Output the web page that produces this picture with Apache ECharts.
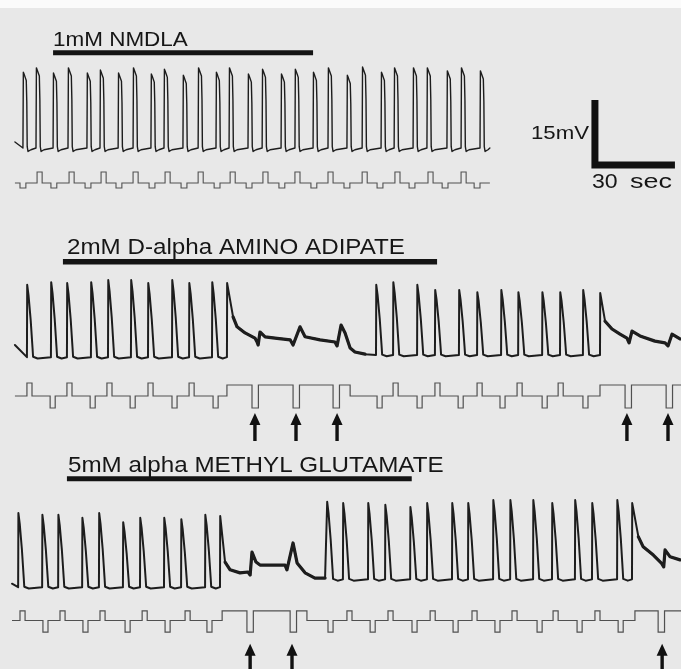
<!DOCTYPE html>
<html><head><meta charset="utf-8">
<script src="https://cdn.jsdelivr.net/npm/echarts/dist/echarts.min.js"></script>
<style>html,body{margin:0;padding:0;background:#e8e8e8}#c{width:681px;height:669px}</style>
</head><body><div id="c"></div>
<script>
// ===== DATA (time in s, membrane potential in mV relative to rest, injected current in nA) =====
const labels = ['1mM NMDLA', '2mM D-alpha AMINO ADIPATE', '5mM alpha METHYL GLUTAMATE'];
const drug1 = [15.4, 112.9];
const drug2 = [19.1, 159.4];
const drug3 = [20.6, 149.9];
const scaleMV = 15, scaleSec = 30;

// Row 1 : 1mM NMDLA
const r1SpikeT = [4.1,9.0,15.4,21.0,28.1,33.0,39.8,45.4,52.1,57.0,64.1,69.8,76.5,81.4,88.5,93.8,100.9,106.1,112.9,118.5,125.6,131.3,138.4,143.3,150.4,155.6,163.1,168.4,175.5];
const r1SpikeV = [17.5,18.5,17.3,18.5,17.3,18.0,17.3,18.5,17.1,18.2,16.8,18.5,17.5,18.5,17.1,18.2,17.1,18.2,17.5,18.5,16.8,18.7,17.5,18.5,18.5,18.5,17.8,18.5,17.8];
const r1Base = [[0, 0]];
const r1Start = [1.1, 1.4];
const r1EndT = 179.2;
const i1Span = [1.1, 179.2];
const i1Up = [9.4,21.4,33.4,45.4,57.4,69.8,81.8,94.1,106.1,118.5,131.3,143.6,156.0,168.4];
const i1Down = [3.0,14.6,27.4,39.0,51.4,63.4,75.8,87.8,100.1,112.1,124.5,136.9,148.9,161.3,173.3];

// Row 2 : 2mM D-alpha amino adipate
const r2SpikeT = [5.6,14.6,20.6,29.6,36.0,44.6,51.0,60.0,66.4,75.0,80.6,136.5,142.9,151.9,158.6,167.6,174.4,183.4,189.8,198.8,205.5,214.1,220.5];
const r2SpikeV = [16.2,16.8,16.6,16.8,17.3,17.3,16.6,17.3,16.6,16.8,16.6,16.2,16.8,16.2,15.0,15.0,14.5,15.0,14.5,14.5,14.5,15.0,14.3];
const r2Base = [[0, 0], [126, 0.5]];
const r2Start = [1.1, 2.3];
const r2Tail1 = [[82.9,8.8],[84.4,6.5],[87.4,5.1],[91.1,3.9],[91.9,3.0],[92.3,2.3],[93.0,5.3],[94.9,4.2],[98.6,3.9],[104.3,3.5],[105.4,2.3],[108.0,6.5],[109.9,4.2],[115.5,3.5],[121.1,3.0],[121.9,2.1],[123.4,6.9],[124.9,5.1],[126.8,1.6],[128.6,0.7],[132.4,0.2]];
const r2Tail2 = [[222.4,7.8],[225.0,6.0],[228.0,4.8],[230.6,3.9],[231.4,2.8],[232.5,5.5],[235.5,4.4],[241.1,3.2],[244.9,2.8],[246.0,2.1],[247.5,4.8],[250.5,3.7]];
const i2Span = [1.1, 250.9];
const i2Up = [5.6,20.6,35.6,51.0,66.4,142.9,158.6,174.4,189.4,204.8];
const i2Down = [14.3,29.3,44.3,60.0,75.4,136.9,151.9,167.3,183.0,198.8,214.1];
const i2Hold = [[80.6,126.8],[220.5,250.9]];
const i2HoldDown = [90.0,105.4,120.4,229.9,245.3];
const arrows2 = [91.1,106.5,121.9,230.6,246.0];

// Row 3 : 5mM alpha methyl glutamate
const r3SpikeT = [2.3,11.3,17.3,26.3,32.6,41.6,48.0,57.0,63.4,72.4,78.0,118.1,124.1,133.5,139.9,149.3,155.6,165.0,171.0,180.4,186.8,195.4,202.5,211.1,217.5,226.9,232.5];
const r3SpikeV = [16.6,16.2,16.2,15.5,16.6,14.5,15.5,15.5,15.2,16.2,15.9,19.2,18.9,18.9,18.5,18.0,18.9,18.9,18.9,19.6,19.6,19.6,18.9,19.6,18.9,19.6,18.9];
const r3Base = [[0, 0], [110, 1.8]];
const r3Start = [0, 0.3];
const r3Tail1 = [[79.9,5.3],[81.8,3.5],[85.5,2.8],[88.5,3.0],[89.3,2.3],[90.0,7.6],[91.5,5.3],[93.0,4.6],[102.4,4.6],[103.1,3.5],[105.4,9.7],[106.9,5.1],[109.9,2.8],[113.6,1.6],[117.4,1.6]];
const r3Tail2 = [[234.9,11.1],[236.7,8.8],[240.5,6.9],[243.6,5.0],[244.4,4.2],[244.9,8.1],[246.8,6.5],[250.5,5.8]];
const i3Span = [0, 250.9];
const i3Up = [3.0,18.0,33.0,48.8,64.9,125.6,141.0,156.8,172.5,187.5,202.9,218.6];
const i3Down = [11.6,26.6,42.4,57.4,73.1,118.5,134.3,150.0,165.4,181.1,196.9,211.9,227.3];
const i3Hold = [[78.8,110.6],[233.6,250.9]];
const i3HoldDown = [88.1,104.3,242.3];
const arrows3 = [89.3,105.0,243.8];

// current step levels (nA)
const i1Levels = {up: 0.44, down: -0.2, hold: 0};
const i2Levels = {up: 0.52, down: -0.48, hold: 0.44};
const i3Levels = {up: 0.40, down: -0.48, hold: 0.40};

// ===== BUILDERS =====
function baseAt(steps, t) { let b = steps[0][1]; for (const s of steps) if (t >= s[0]) b = s[1]; return b; }
const shapeSquare = [[0.15,1,0],[0.45,1,-0.5],[0.85,1,-1.2],[1.25,1,-1.9],[1.45,0.6,0],[1.6,0,0.3],[1.9,0,-0.8],[3.0,0,-0.4]];
const shapeSaw = [[0.1,1,0],[0.6,0.85,0],[1.4,0.5,0],[2.1,0.1,0],[2.3,0,-0.4],[4.0,0,-0.8]];
function buildV(T, V, baseSteps, start, tails, shape, pre, endT) {
  const pts = [start.slice()];
  for (let i = 0; i < T.length; i++) {
    const t = T[i], p = V[i], b = baseAt(baseSteps, t), a = p - b;
    pts.push([t, b + pre]);
    if (tails[i]) { pts.push([t + 0.08, p]); tails[i].forEach(q => pts.push(q)); }
    else shape.forEach(s => pts.push([t + s[0], b + s[1] * a + s[2]]));
  }
  if (endT != null) pts.push([endT, baseAt(baseSteps, endT)]);
  return pts;
}
function buildI(span, ups, downs, holds, holdDowns, L, upW, downW, holdDownW) {
  const iv = [];
  ups.forEach(t => iv.push([t, t + upW, L.up]));
  downs.forEach(t => iv.push([t, t + downW, L.down]));
  holdDowns.forEach(t => iv.push([t, t + holdDownW, L.down]));
  const bps = new Set([span[0], span[1]]);
  iv.forEach(v => { bps.add(v[0]); bps.add(v[1]); });
  holds.forEach(h => { bps.add(h[0]); bps.add(h[1]); });
  const ts = [...bps].filter(t => t >= span[0] && t <= span[1]).sort((a, b) => a - b);
  const lev = t => {
    for (const v of iv) if (t >= v[0] && t < v[1]) return v[2];
    for (const h of holds) if (t >= h[0] && t < h[1]) return L.hold;
    return 0;
  };
  const pts = [];
  for (let k = 0; k < ts.length - 1; k++) {
    const L2 = lev((ts[k] + ts[k + 1]) / 2);
    pts.push([ts[k], L2], [ts[k + 1], L2]);
  }
  return pts;
}

// ===== LAYOUT =====
const pxPerMV = 65 / 15, pxPerNA = 25;
const X0 = 12, XW = 668, TMAX = 250.5;
const vRows = [{top: 50, h: 130, base: 148}, {top: 258, h: 130, base: 355}, {top: 468, h: 130, base: 585}];
const iRows = [{top: 133, h: 100, base: 183}, {top: 346, h: 100, base: 396}, {top: 572, h: 100, base: 622}];
const grids = [], xAxes = [], yAxes = [];
for (let r = 0; r < 3; r++) {
  const v = vRows[r], c = iRows[r];
  grids.push({left: X0, width: XW, top: v.top, height: v.h});
  grids.push({left: X0, width: XW, top: c.top, height: c.h});
  const vMax = (v.base - v.top) / pxPerMV, iMax = (c.base - c.top) / pxPerNA;
  yAxes.push({type: 'value', gridIndex: 2 * r, min: vMax - v.h / pxPerMV, max: vMax, show: false});
  yAxes.push({type: 'value', gridIndex: 2 * r + 1, min: iMax - c.h / pxPerNA, max: iMax, show: false});
  xAxes.push({type: 'value', gridIndex: 2 * r, min: 0, max: TMAX, show: false});
  xAxes.push({type: 'value', gridIndex: 2 * r + 1, min: 0, max: TMAX, show: false});
}

const vCol = '#1d1d1d', iCol = '#505050';
function lineS(idx, data, color, width, join) {
  return {type: 'line', xAxisIndex: idx, yAxisIndex: idx, data, symbol: 'none', silent: true,
    lineStyle: {color, width, cap: join === 'miter' ? 'butt' : 'round', join: join || 'round'}, clip: false, z: 3};
}
const arrowPath = 'path://M5.5,0 L11,12 L7.2,12 L7.2,28 L3.8,28 L3.8,12 L0,12 Z';
function arrowS(idx, times, level) {
  return {type: 'scatter', xAxisIndex: idx, yAxisIndex: idx, data: times.map(t => [t, level]),
    symbol: arrowPath, symbolSize: [11, 28], symbolOffset: [0, '50%'], clip: false,
    itemStyle: {color: '#111', opacity: 1}, silent: true, z: 4};
}

const series = [
  lineS(0, buildV(r1SpikeT, r1SpikeV, r1Base, r1Start, {}, shapeSquare, 0, r1EndT), vCol, 1.4),
  lineS(1, buildI(i1Span, i1Up, i1Down, [], [], i1Levels, 1.9, 2.2, 2.2), iCol, 1.1, 'miter'),
  lineS(2, buildV(r2SpikeT, r2SpikeV, r2Base, r2Start, {10: r2Tail1, 22: r2Tail2}, shapeSaw, -0.5, null), vCol, 2),
  lineS(2, r2Tail1, vCol, 3.2), lineS(2, r2Tail2, vCol, 3.2),
  lineS(3, buildI(i2Span, i2Up, i2Down, i2Hold, i2HoldDown, i2Levels, 1.9, 1.9, 2.4), iCol, 1.2, 'miter'),
  lineS(4, buildV(r3SpikeT, r3SpikeV, r3Base, r3Start, {10: r3Tail1, 26: r3Tail2}, shapeSaw, -0.5, null), vCol, 2),
  lineS(4, r3Tail1, vCol, 3.2), lineS(4, r3Tail2, vCol, 3.2),
  lineS(5, buildI(i3Span, i3Up, i3Down, i3Hold, i3HoldDown, i3Levels, 1.9, 1.9, 2.4), iCol, 1.2, 'miter'),
  // drug application bars
  lineS(0, [[drug1[0], 22.0], [drug1[1], 22.0]], '#141414', 5, 'miter'),
  lineS(2, [[drug2[0], 21.5], [drug2[1], 21.5]], '#141414', 5.5, 'miter'),
  lineS(4, [[drug3[0], 24.5], [drug3[1], 24.5]], '#141414', 5, 'miter'),
  // calibration bar
  lineS(0, [[218.6, -3.9 + scaleMV], [218.6, -3.9], [218.6 + scaleSec, -3.9]], '#111', 7, 'miter'),
  arrowS(3, arrows2, -0.68),
  arrowS(5, arrows3, -0.96)
];

function txt(text, x, y, size, sx, align) {
  return {type: 'text', x, y, scaleX: sx, silent: true, z: 10,
    style: {text, fontFamily: 'Liberation Sans, Arial, sans-serif', fontSize: size, fill: '#161616',
      verticalAlign: 'middle', align: align || 'left'}};
}

const chart = echarts.init(document.getElementById('c'), null, {renderer: 'canvas'});
chart.setOption({
  backgroundColor: '#e8e8e8',
  animation: false,
  grid: grids, xAxis: xAxes, yAxis: yAxes,
  series,
  graphic: [
    {type: 'rect', shape: {x: 0, y: 0, width: 681, height: 8}, style: {fill: '#fbfbfb'}, z: -1, silent: true},
    txt(labels[0], 53, 40.5, 21, 1.07),
    txt(labels[1], 67, 247.5, 22, 1.1),
    txt(labels[2], 68, 465.5, 22, 1.1),
    txt('15mV', 589, 133.5, 19, 1.17, 'right'),
    txt('30', 592, 182.5, 21, 1.1),
    txt('sec', 630, 182.5, 21, 1.28)
  ]
});
</script></body></html>
